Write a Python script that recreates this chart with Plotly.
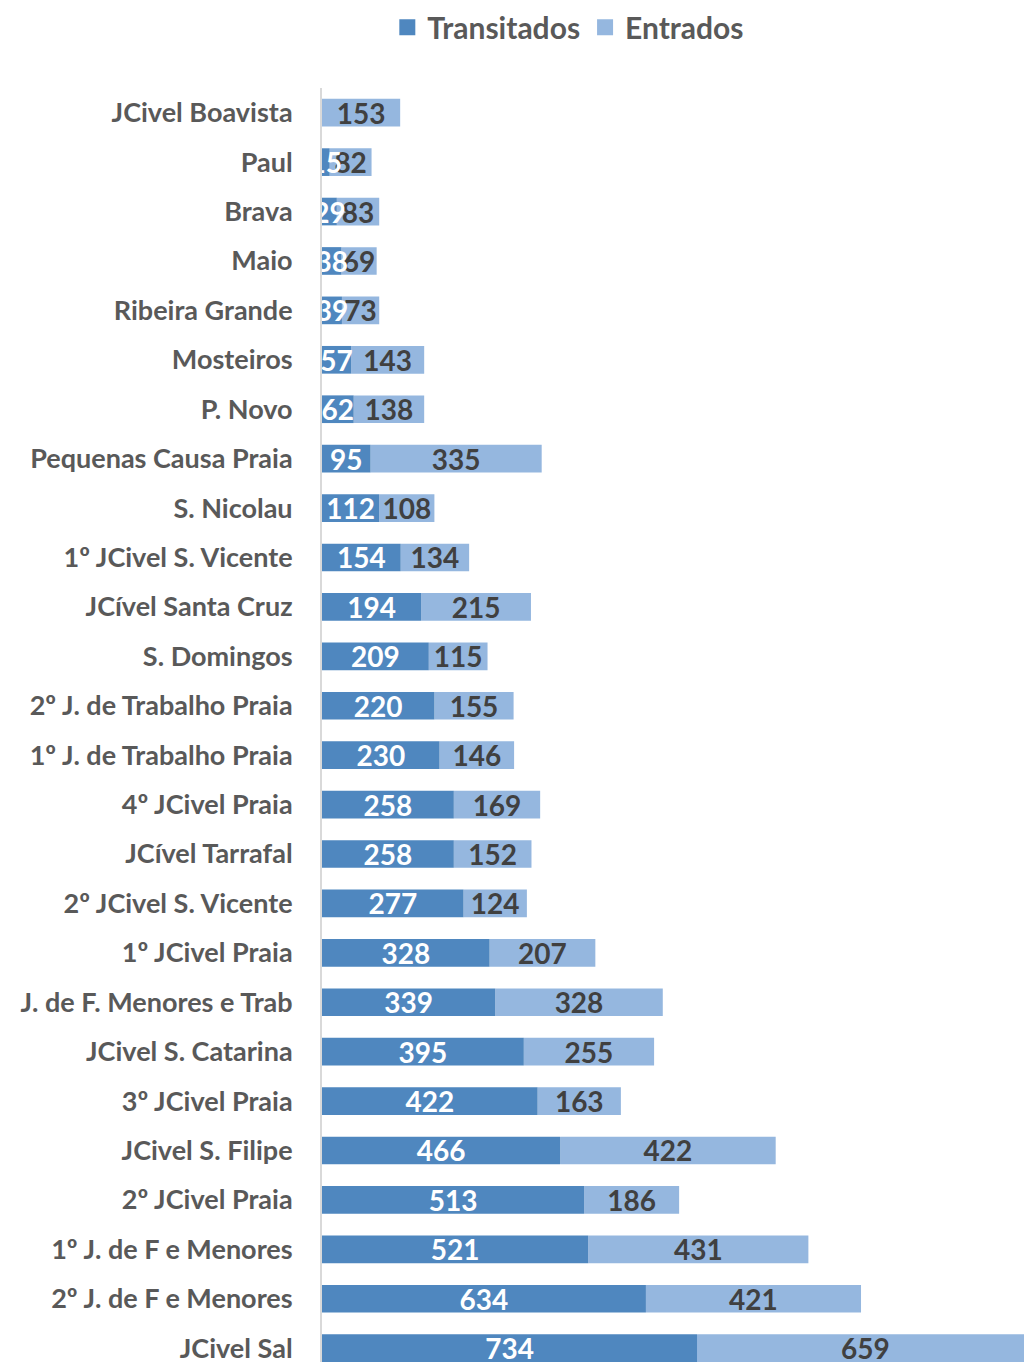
import plotly.graph_objects as go

categories = ["JCivel Boavista", "Paul", "Brava", "Maio", "Ribeira Grande", "Mosteiros",
              "P. Novo", "Pequenas Causa Praia", "S. Nicolau", "1º JCivel S. Vicente",
              "JCível Santa Cruz", "S. Domingos", "2º J. de Trabalho Praia",
              "1º J. de Trabalho Praia", "4º JCivel Praia", "JCível Tarrafal",
              "2º JCivel S. Vicente", "1º JCivel Praia", "J. de F. Menores e Trab",
              "JCivel S. Catarina", "3º JCivel Praia", "JCivel S. Filipe", "2º JCivel Praia",
              "1º J. de F e Menores", "2º J. de F e Menores", "JCivel Sal"]
transitados = [0, 15, 29, 38, 39, 57, 62, 95, 112, 154, 194, 209, 220, 230, 258, 258,
               277, 328, 339, 395, 422, 466, 513, 521, 634, 734]
entrados = [153, 82, 83, 69, 73, 143, 138, 335, 108, 134, 215, 115, 155, 146, 169, 152,
            124, 207, 328, 255, 163, 422, 186, 431, 421, 659]

FONT = "Lato"
DARK = "#4f87bf"
LIGHT = "#95b7df"

fig = go.Figure()
# Entrados stacked after Transitados (base = transitados); drawn first so the
# white Transitados labels sit on top, as in the original
fig.add_trace(go.Bar(
    y=categories, x=entrados, base=transitados, name="Entrados", orientation="h",
    marker=dict(color=LIGHT, line=dict(width=0)), showlegend=False,
    text=[str(v) for v in entrados], textposition="inside", textangle=0,
    insidetextanchor="middle", constraintext="none",
    textfont=dict(family=FONT, size=28, color="#404040", weight="bold"),
))
fig.add_trace(go.Bar(
    y=categories, x=transitados, name="Transitados", orientation="h",
    marker=dict(color=DARK, line=dict(width=0)), showlegend=False,
    text=[str(v) for v in transitados], textposition="inside", textangle=0,
    insidetextanchor="middle", constraintext="none",
    textfont=dict(family=FONT, size=28, color="white", weight="bold"),
))

# legend entries with square swatches
for name, col in [("Transitados", DARK), ("Entrados", LIGHT)]:
    fig.add_trace(go.Scatter(
        x=[None], y=[None], mode="markers", name=name,
        marker=dict(symbol="square", size=17, color=col),
    ))

fig.update_layout(
    width=1024, height=1362,
    barmode="overlay",
    bargap=0.44,
    margin=dict(l=322, r=0, t=88, b=0, autoexpand=False),
    paper_bgcolor="white", plot_bgcolor="white",
    font=dict(family=FONT, color="#595959"),
    legend=dict(orientation="h", xref="container", yref="container",
                x=0.555, y=0.98, xanchor="center", yanchor="middle",
                font=dict(family=FONT, size=30, color="#595959", weight="bold"),
                itemwidth=30, traceorder="normal"),
    showlegend=True,
)
fig.update_xaxes(range=[0, 1374], showgrid=False, showticklabels=False,
                 zeroline=False, showline=False)
fig.update_yaxes(autorange=False, range=[25.28, -0.5], type="category",
                 categoryorder="array", categoryarray=categories,
                 showgrid=False, showline=True, linecolor="#d9d9d9", linewidth=2,
                 ticks="", ticklabelstandoff=22,
                 tickfont=dict(family=FONT, size=27, color="#595959", weight="bold"))

fig.write_html("out.html")
